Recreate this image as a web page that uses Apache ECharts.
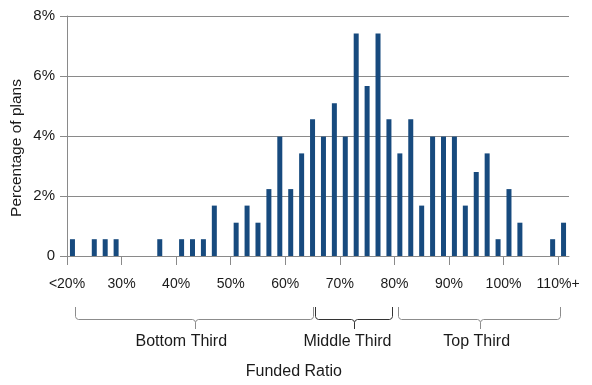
<!DOCTYPE html>
<html>
<head>
<meta charset="utf-8">
<script src="https://cdn.jsdelivr.net/npm/echarts@6/dist/echarts.min.js"></script>
<style>
html,body{margin:0;padding:0;background:#fff;}
#chart{width:592px;height:385px;}
</style>
</head>
<body>
<div id="chart"></div>
<script>
// Funded-ratio bins (2% wide), lower bound of each bin
const categories = ['20%','22%','24%','26%','28%','30%','32%','34%','36%','38%',
  '40%','42%','44%','46%','48%','50%','52%','54%','56%','58%',
  '60%','62%','64%','66%','68%','70%','72%','74%','76%','78%',
  '80%','82%','84%','86%','88%','90%','92%','94%','96%','98%',
  '100%','102%','104%','106%','108%','110%'];
// Percentage of plans in each bin
const percentOfPlans = [0.56,0,0.56,0.56,0.56,0,0,0,0.56,0,
  0.56,0.56,0.56,1.68,0,1.11,1.68,1.11,2.23,3.98,
  2.23,3.42,4.56,3.98,5.09,3.98,7.42,5.67,7.42,4.56,
  3.42,4.56,1.68,3.98,3.98,3.98,1.68,2.80,3.42,0.56,
  2.23,1.11,0,0,0.56,1.11];
// Tick labels placed on bin boundaries every 5 bins
const tickLabels = ['<20%','30%','40%','50%','60%','70%','80%','90%','100%','110%+'];
const tickBoundaries = [0,5,10,15,20,25,30,35,40,45];
// Brace groups (in bin-boundary units)
const groupNames = ['Bottom Third','Middle Third','Top Third'];
const groupRanges = [[0.7,22.5],[22.75,29.8],[30.3,45.2]];

const FONT = "'Liberation Sans', Arial, sans-serif";
const chart = echarts.init(document.getElementById('chart'), null, {renderer:'canvas'});

const option = {
  animation: false,
  backgroundColor: '#fff',
  grid: {left: 67, right: 23, top: 16, bottom: 129, containLabel: false},
  xAxis: [
    {
      type: 'category',
      data: categories,
      boundaryGap: true,
      axisLine: {show: true, lineStyle: {color: '#8a8a8a', width: 1}},
      axisTick: {show: false},
      axisLabel: {show: false},
      splitLine: {show: false}
    },
    {
      type: 'value',
      position: 'bottom',
      min: 0,
      max: categories.length,
      axisLine: {show: false},
      axisTick: {show: true, length: 9, customValues: tickBoundaries, lineStyle: {color: '#8a8a8a'}},
      axisLabel: {
        show: true, margin: 21, customValues: tickBoundaries,
        fontFamily: FONT, fontSize: 14, color: '#1a1a1a',
        formatter: function (v) { const i = tickBoundaries.indexOf(v); return i >= 0 ? tickLabels[i] : ''; }
      },
      splitLine: {show: false}
    }
  ],
  yAxis: {
    type: 'value',
    min: 0, max: 8, interval: 2,
    axisLine: {show: true, lineStyle: {color: '#8a8a8a', width: 1}},
    axisTick: {show: true, length: 7, lineStyle: {color: '#8a8a8a'}},
    axisLabel: {
      margin: 12, fontFamily: FONT, fontSize: 15, color: '#1a1a1a',
      formatter: function (v) { return v === 0 ? '0' : v + '%'; }
    },
    splitLine: {show: true, lineStyle: {color: '#8a8a8a', width: 1}}
  },
  series: [{
    type: 'bar',
    xAxisIndex: 0,
    data: percentOfPlans,
    barWidth: 5,
    itemStyle: {color: '#174a7e'}
  }]
};
chart.setOption(option);

function buildGraphics() {
  const els = [];
  els.push({
    type: 'text', x: 17, y: 148, rotation: Math.PI / 2,
    style: {text: 'Percentage of plans', fontFamily: FONT, fontSize: 15.5, fill: '#1a1a1a',
      align: 'center', verticalAlign: 'middle'}
  });
  const braceColors = ['#8c8c8c', '#333333', '#8c8c8c'];
  const labelX = [181.3, 347.5, 476.7];
  groupRanges.forEach(function (r, i) {
    const x1 = Math.round(chart.convertToPixel({xAxisIndex: 1}, r[0])) + 0.5;
    const x2 = Math.round(chart.convertToPixel({xAxisIndex: 1}, r[1])) + 0.5;
    const cx = Math.round((x1 + x2) / 2) + 0.5;
    const yTop = 307, yH = 319.5, yB = 329;
    const stroke = braceColors[i];
    els.push({type: 'polyline', shape: {points: [
        [x1, yTop], [x1, yH - 3], [x1 + 0.9, yH - 0.9], [x1 + 3, yH],
        [cx - 3, yH], [cx - 0.9, yH + 0.9], [cx, yH + 3], [cx, yB]]},
      style: {fill: null, stroke: stroke, lineWidth: 1}});
    els.push({type: 'polyline', shape: {points: [
        [cx, yH + 3], [cx + 0.9, yH + 0.9], [cx + 3, yH],
        [x2 - 3, yH], [x2 - 0.9, yH - 0.9], [x2, yH - 3], [x2, yTop]]},
      style: {fill: null, stroke: stroke, lineWidth: 1}});
    els.push({type: 'text', x: labelX[i], y: 342,
      style: {text: groupNames[i], fontFamily: FONT, fontSize: 16, fill: '#1a1a1a',
        align: 'center', verticalAlign: 'middle'}});
  });
  els.push({type: 'text', x: 293.8, y: 372,
    style: {text: 'Funded Ratio', fontFamily: FONT, fontSize: 16, fill: '#1a1a1a',
      align: 'center', verticalAlign: 'middle'}});
  return els;
}
chart.setOption({graphic: buildGraphics()});
</script>
</body>
</html>
